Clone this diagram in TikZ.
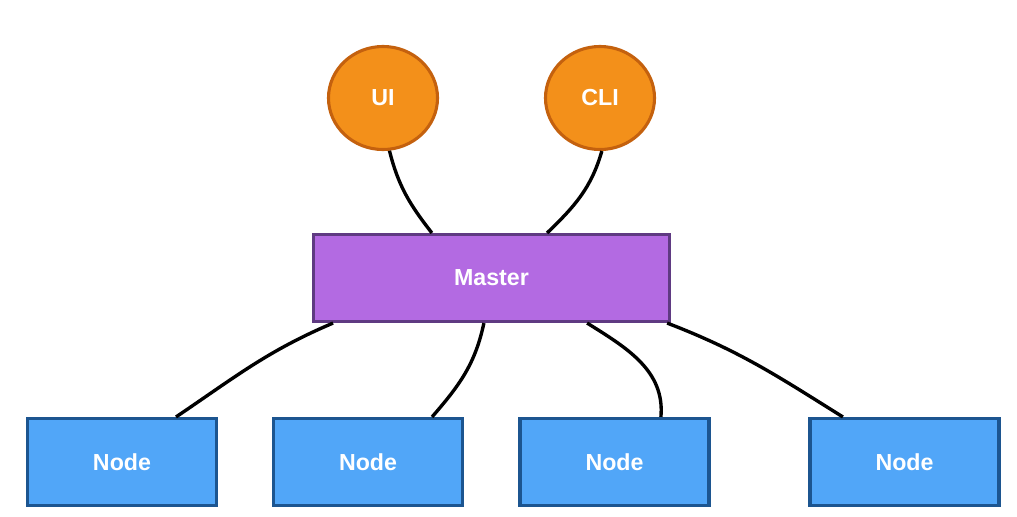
\documentclass[tikz,border=0pt]{standalone}
\usepackage{fontspec}
\setmainfont{Liberation Sans}
\usetikzlibrary{shapes.geometric}
\definecolor{uiorange}{RGB}{243,144,26}
\definecolor{uiedge}{RGB}{196,97,14}
\definecolor{masterfill}{RGB}{179,106,226}
\definecolor{masteredge}{RGB}{95,58,130}
\definecolor{nodefill}{RGB}{81,166,248}
\definecolor{nodeedge}{RGB}{28,85,144}

\begin{document}
\begin{tikzpicture}[x=0.025cm, y=0.025cm,
    every node/.style={font=\bfseries\fontsize{16.5}{20}\selectfont, text=white, line width=2.2pt},
    client/.style={draw=uiedge, fill=uiorange, ellipse, inner sep=0pt, minimum width=2.725cm, minimum height=2.575cm},
    hub/.style={draw=masteredge, fill=masterfill, rectangle, minimum width=8.9cm, minimum height=2.175cm},
    worker/.style={draw=nodeedge, fill=nodefill, rectangle, minimum width=4.725cm, minimum height=2.175cm},
    wire/.style={line width=2.4pt, black}]
    \useasboundingbox (0,0) rectangle (1017,516);
    \node[client] (ui) at (383,418) {UI};
    \node[client] (cli) at (600,418) {CLI};
    \node[hub] (master) at (491.5,238) {Master};
    \node[worker] (node1) at (122,54) {Node};
    \node[worker] (node2) at (368,54) {Node};
    \node[worker] (node3) at (614.5,54) {Node};
    \node[worker] (node4) at (904.5,54) {Node};
    \draw[wire] (ui.-83) to[out=-76, in=128] ([xshift=-1.49cm]master.north);
    \draw[wire] (cli.-88) to[out=-106, in=44] ([xshift=1.39cm]master.north);
    \draw[wire] ([xshift=-3.96cm]master.south) to[out=-157, in=34] ([xshift=1.35cm]node1.north);
    \draw[wire] ([xshift=-0.19cm]master.south) to[out=-102, in=49] ([xshift=1.6cm]node2.north);
    \draw[wire] ([xshift=2.39cm]master.south) to[out=-32, in=85] ([xshift=1.16cm]node3.north);
    \draw[wire] ([xshift=4.39cm]master.south) to[out=-21, in=148] ([xshift=-1.54cm]node4.north);
\end{tikzpicture}
\end{document}
